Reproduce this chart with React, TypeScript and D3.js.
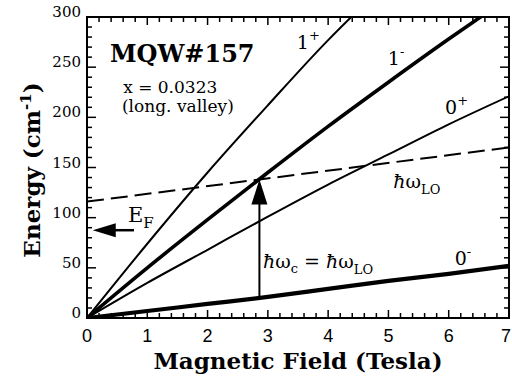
import React from "react";
import * as d3 from "d3";

// Landau-level energies (cm^-1) versus magnetic field (Tesla)
const fieldLevel1Plus = [0, 1, 2, 3, 4, 4.4];
const level1Plus = [0, 74, 145, 212, 277, 301];
const fieldLevel1Minus = [0, 1, 2, 3, 4, 5, 6, 6.6];
const level1Minus = [0, 50, 98, 145, 191, 235, 278, 303];
const fieldLevel0Plus = [0, 1, 2, 3, 4, 5, 6, 7];
const level0Plus = [0, 35, 68, 101, 133, 163, 193, 221];
const fieldLevel0Minus = [0, 1, 2, 3, 4, 5, 6, 7];
const level0Minus = [0, 7, 14, 21, 29, 37, 44, 52];
// LO phonon energy line (dashed)
const fieldPhonon = [0, 7];
const phononLO = [116, 170];

// Resonance arrow (ħωc = ħωLO) and Fermi energy marker
const resonanceField = 2.86;
const resonanceFrom = 20;
const resonanceTo = 138;
const fermiEnergy = 87.5;

const xTickLabels = ["0", "1", "2", "3", "4", "5", "6", "7"];
const yTickLabels = ["0", "50", "100", "150", "200", "250", "300"];

const W = 512;
const H = 386;
const left = 87;
const right = 509;
const top = 17;
const bottom = 318;

const serif = "'DejaVu Serif', serif";
const sans = "'Liberation Sans', Arial, sans-serif";

export default function App() {
  const x = d3.scaleLinear().domain([0, 7]).range([left, right]);
  const y = d3.scaleLinear().domain([0, 300]).range([bottom, top]);

  const line = d3
    .line<[number, number]>()
    .x((d) => x(d[0]))
    .y((d) => y(d[1]))
    .curve(d3.curveMonotoneX);

  const zip = (a: number[], b: number[]) => a.map((v, i) => [v, b[i]] as [number, number]);

  const series = [
    { pts: zip(fieldLevel1Plus, level1Plus), w: 2, dash: undefined },
    { pts: zip(fieldLevel1Minus, level1Minus), w: 3.6, dash: undefined },
    { pts: zip(fieldLevel0Plus, level0Plus), w: 2, dash: undefined },
    { pts: zip(fieldLevel0Minus, level0Minus), w: 4.2, dash: undefined },
    { pts: zip(fieldPhonon, phononLO), w: 2, dash: "17,7" },
  ];

  const xMinor = d3.range(0, 7.001, 0.2);
  const yMinor = d3.range(0, 300.001, 10);
  const isMajorX = (v: number) => Math.abs(v - Math.round(v)) < 1e-6;
  const isMajorY = (v: number) => Math.round(v) % 50 === 0;

  // arrow geometry
  const ax = x(resonanceField);
  const aTop = y(resonanceTo);
  const aBot = y(resonanceFrom);
  const headLen = 25;
  const headHalf = 8;

  const fy = y(fermiEnergy);
  const fTip = x(0.095);
  const fTail = x(0.78);

  return (
    <svg
      width={W}
      height={H}
      viewBox={`0 0 ${W} ${H}`}
      style={{ position: "absolute", left: 0, top: 0, background: "#fff" }}
    >
      <defs>
        <clipPath id="plotClip">
          <rect x={left} y={top} width={right - left} height={bottom - top} />
        </clipPath>
      </defs>

      {/* frame ticks, inward on all four sides */}
      <g stroke="#000" strokeWidth={1.5}>
        {xMinor.map((v, i) => {
          const len = isMajorX(v) ? 8 : 5;
          return (
            <g key={"xt" + i}>
              <line x1={x(v)} x2={x(v)} y1={bottom} y2={bottom - len} />
              <line x1={x(v)} x2={x(v)} y1={top} y2={top + len} />
            </g>
          );
        })}
        {yMinor.map((v, i) => {
          const len = isMajorY(v) ? 9 : 5;
          return (
            <g key={"yt" + i}>
              <line x1={left} x2={left + len} y1={y(v)} y2={y(v)} />
              <line x1={right} x2={right - len} y1={y(v)} y2={y(v)} />
            </g>
          );
        })}
      </g>

      {/* level lines */}
      <g clipPath="url(#plotClip)" fill="none" stroke="#000">
        {series.map((s, i) => (
          <path key={i} d={line(s.pts) || ""} strokeWidth={s.w} strokeDasharray={s.dash} />
        ))}
      </g>

      {/* frame */}
      <rect
        x={left}
        y={top}
        width={right - left}
        height={bottom - top}
        fill="none"
        stroke="#000"
        strokeWidth={2}
      />

      {/* resonance arrow */}
      <line x1={ax} x2={ax} y1={aBot} y2={aTop + headLen - 2} stroke="#000" strokeWidth={2} />
      <path
        d={`M${ax},${aTop} L${ax - headHalf},${aTop + headLen} L${ax + headHalf},${aTop + headLen} Z`}
        fill="#000"
      />

      {/* Fermi energy arrow */}
      <line x1={fTail} x2={fTip + 18} y1={fy} y2={fy} stroke="#000" strokeWidth={2.5} />
      <path d={`M${fTip},${fy} L${fTip + 23},${fy - 7} L${fTip + 23},${fy + 7} Z`} fill="#000" />

      {/* tick labels */}
      <g fontFamily={sans} fontSize={18} textAnchor="middle">
        {xTickLabels.map((t) => (
          <text key={t} x={Math.min(x(+t), W - 6)} y={342}>
            {t}
          </text>
        ))}
      </g>
      <g fontFamily={serif} fontSize={15} textAnchor="end">
        {yTickLabels.map((t) => (
          <text key={t} x={81} y={y(+t)}>
            {t}
          </text>
        ))}
      </g>

      {/* axis titles */}
      <text
        x={298}
        y={369}
        fontFamily={serif}
        fontWeight="bold"
        fontSize={23}
        textAnchor="middle"
      >
        Magnetic Field (Tesla)
      </text>
      <text
        transform={`translate(40,${170}) rotate(-90)`}
        fontFamily={serif}
        fontWeight="bold"
        fontSize={23}
        textAnchor="middle"
      >
        Energy (cm
        <tspan fontSize={15} dy={-9}>
          -1
        </tspan>
        <tspan dy={9}>)</tspan>
      </text>

      {/* sample annotation */}
      <g fontFamily={serif}>
        <text x={x(0.38)} y={y(255)} fontSize={24} fontWeight="bold">
          MQW#157
        </text>
        <text x={x(0.6)} y={y(224)} fontSize={17}>
          x = 0.0323
        </text>
        <text x={x(0.58)} y={y(205)} fontSize={17}>
          (long. valley)
        </text>
      </g>

      {/* level labels */}
      <g fontFamily={serif} fontSize={19}>
        <text x={x(3.48)} y={y(268)}>
          1<tspan fontSize={13} dy={-9}>+</tspan>
        </text>
        <text x={x(4.99)} y={y(252)}>
          1<tspan fontSize={13} dy={-9}>-</tspan>
        </text>
        <text x={x(5.94)} y={y(203)}>
          0<tspan fontSize={13} dy={-9}>+</tspan>
        </text>
        <text x={x(6.1)} y={y(53)}>
          0<tspan fontSize={13} dy={-9}>-</tspan>
        </text>
        <text x={x(5.08)} y={y(130)}>
          <tspan fontStyle="italic">ħ</tspan>ω
          <tspan fontSize={13} dy={6}>LO</tspan>
        </text>
        <text x={x(2.92)} y={y(50)}>
          <tspan fontStyle="italic">ħ</tspan>ω
          <tspan fontSize={13} dy={5}>c</tspan>
          <tspan dy={-5}> = </tspan>
          <tspan fontStyle="italic">ħ</tspan>ω
          <tspan fontSize={13} dy={6}>LO</tspan>
        </text>
        <text x={x(0.68)} y={y(96)} fontSize={21}>
          E<tspan fontSize={15} dy={6}>F</tspan>
        </text>
      </g>
    </svg>
  );
}
